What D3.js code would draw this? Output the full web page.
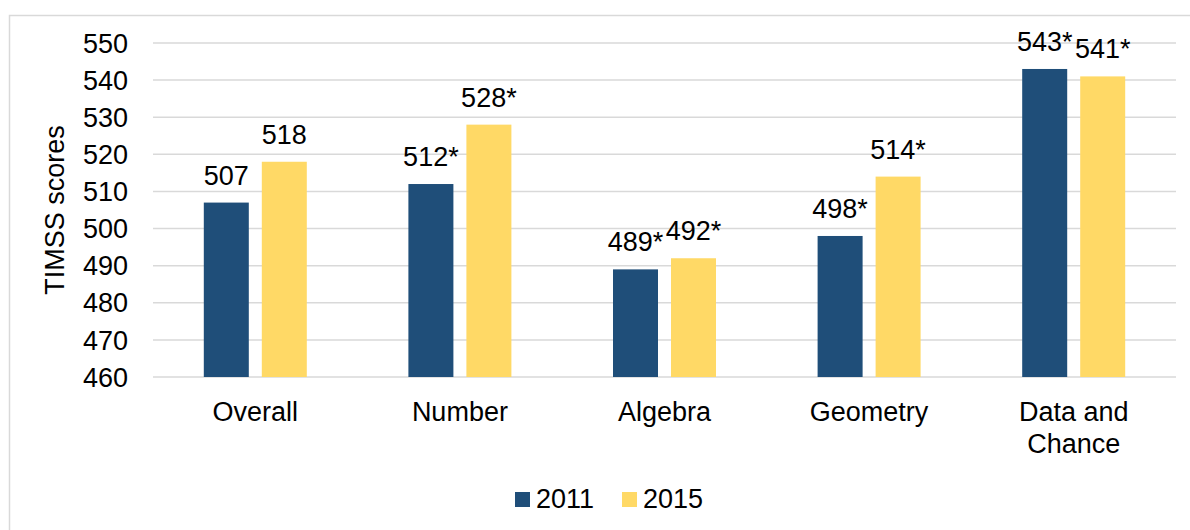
<!DOCTYPE html>
<html>
<head>
<meta charset="utf-8">
<script src="https://cdn.jsdelivr.net/npm/d3@7"></script>
<style>
  body { margin: 0; background: #fff; }
  text { font-family: "Liberation Sans", Arial, sans-serif; fill: #000; }
</style>
</head>
<body>
<div id="chart"></div>
<script>
// Chart data
const categories = ['Overall', 'Number', 'Algebra', 'Geometry', 'Data and Chance'];
const years = ['2011', '2015'];
const scores2011 = [507, 512, 489, 498, 543];
const scores2015 = [518, 528, 492, 514, 541];
const labels2011 = ['507', '512*', '489*', '498*', '543*'];
const labels2015 = ['518', '528*', '492*', '514*', '541*'];
const yTicks = [460, 470, 480, 490, 500, 510, 520, 530, 540, 550];
const colors = ['#1F4E79', '#FFD966'];

const width = 1190, height = 530;
const margin = {top: 43, right: 14, bottom: 153, left: 153};
const innerW = width - margin.left - margin.right;
const innerH = height - margin.top - margin.bottom;

const svg = d3.select('#chart').append('svg')
    .attr('width', width)
    .attr('height', height);

// outer frame
svg.append('rect')
    .attr('x', 9.5).attr('y', 15.5)
    .attr('width', 1200).attr('height', 600)
    .attr('fill', 'none')
    .attr('stroke', '#d9d9d9')
    .attr('stroke-width', 1.5);

const chart = svg.append('g')
    .attr('transform', `translate(${margin.left},${margin.top})`);

const x = d3.scaleBand().domain(categories).range([0, innerW]);
const y = d3.scaleLinear().domain([460, 550]).range([innerH, 0]);

const barW = 45, barGap = 13;

// gridlines
chart.selectAll('.grid')
    .data(yTicks)
    .join('line')
    .attr('class', 'grid')
    .attr('x1', 0).attr('x2', innerW)
    .attr('y1', d => y(d)).attr('y2', d => y(d))
    .attr('stroke', '#d9d9d9')
    .attr('stroke-width', 1.5);

// y tick labels
chart.selectAll('.ytick')
    .data(yTicks)
    .join('text')
    .attr('class', 'ytick')
    .attr('x', -25)
    .attr('y', d => y(d))
    .attr('dy', '0.36em')
    .attr('text-anchor', 'end')
    .style('font-size', '27px')
    .text(d => d);

// y title
chart.append('text')
    .attr('transform', `translate(${-89},${innerH / 2}) rotate(-90)`)
    .attr('text-anchor', 'middle')
    .style('font-size', '27px')
    .text('TIMSS scores');

const series = [
    {year: years[0], values: scores2011, labels: labels2011, color: colors[0], off: -barGap / 2 - barW},
    {year: years[1], values: scores2015, labels: labels2015, color: colors[1], off: barGap / 2}
];

series.forEach(s => {
    const g = chart.append('g');
    g.selectAll('rect')
        .data(categories)
        .join('rect')
        .attr('x', (d) => x(d) + x.bandwidth() / 2 + s.off)
        .attr('y', (d, i) => y(s.values[i]))
        .attr('width', barW)
        .attr('height', (d, i) => innerH - y(s.values[i]))
        .attr('fill', s.color);

    g.selectAll('text')
        .data(categories)
        .join('text')
        .attr('x', (d) => x(d) + x.bandwidth() / 2 + s.off + barW / 2)
        .attr('y', (d, i) => y(s.values[i]) - 18)
        .attr('text-anchor', 'middle')
        .style('font-size', '27px')
        .text((d, i) => s.labels[i]);
});

// category labels (wrap "Data and Chance")
chart.selectAll('.xlab')
    .data(categories)
    .join('text')
    .attr('class', 'xlab')
    .attr('text-anchor', 'middle')
    .style('font-size', '27px')
    .each(function(d) {
        const lines = d === 'Data and Chance' ? ['Data and', 'Chance'] : [d];
        d3.select(this).selectAll('tspan')
            .data(lines)
            .join('tspan')
            .attr('x', x(d) + x.bandwidth() / 2)
            .attr('y', (l, i) => innerH + 44 + i * 32)
            .text(l => l);
    });

// legend
const legend = svg.append('g').attr('transform', 'translate(515,492)');
const legendPos = [0, 107];
years.forEach((yr, i) => {
    legend.append('rect')
        .attr('x', legendPos[i]).attr('y', 0)
        .attr('width', 15).attr('height', 15)
        .attr('fill', colors[i]);
    legend.append('text')
        .attr('x', legendPos[i] + 21)
        .attr('y', 16)
        .style('font-size', '27px')
        .text(yr);
});
</script>
</body>
</html>
